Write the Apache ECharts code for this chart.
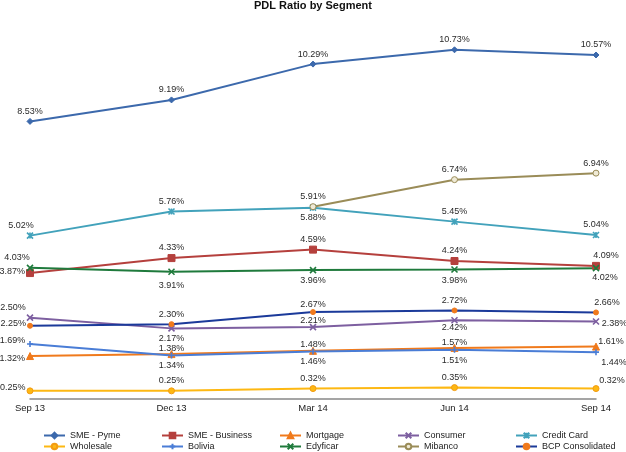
<!DOCTYPE html>
<html>
<head>
<meta charset="utf-8">
<script src="https://cdn.jsdelivr.net/npm/echarts@6/dist/echarts.min.js"></script>
<style>html,body{margin:0;padding:0;background:#fff}#c{width:626px;height:452px}</style>
</head>
<body>
<div id="c"></div>
<script>
const categories = ['Sep 13', 'Dec 13', 'Mar 14', 'Jun 14', 'Sep 14'];
const smePyme = [8.53, 9.19, 10.29, 10.73, 10.57];
const smeBusiness = [3.87, 4.33, 4.59, 4.24, 4.09];
const mortgage = [1.32, 1.38, 1.48, 1.57, 1.61];
const consumer = [2.50, 2.17, 2.21, 2.42, 2.38];
const creditCard = [5.02, 5.76, 5.88, 5.45, 5.04];
const wholesale = [0.25, 0.25, 0.32, 0.35, 0.32];
const bolivia = [1.69, 1.34, 1.46, 1.51, 1.44];
const edyficar = [4.03, 3.91, 3.96, 3.98, 4.02];
const mibanco = [null, null, 5.91, 6.74, 6.94];
const bcpConsolidated = [2.25, 2.30, 2.67, 2.72, 2.66];

const X = 'path://M0,0L10,10M10,0L0,10';
const STAR = 'path://M0,0L10,10M10,0L0,10M5,0L5,10';
const PLUS = 'path://M5,0L5,10M0,5L10,5';

// label placement per point: [position, dx, dy]
const T = ['top', 0, 0], B = ['bottom', 0, 0];
const seriesDefs = [
  {name: 'SME - Pyme', data: smePyme, color: '#3C69AC', symbol: 'diamond', size: 6, labels: [T, T, T, T, T]},
  {name: 'SME - Business', data: smeBusiness, color: '#B5403D', symbol: 'rect', size: 7, labels: [['left', 0, -2], T, T, T, ['top', 10, 0]]},
  {name: 'Mortgage', data: mortgage, color: '#F07A1C', symbol: 'triangle', size: 7, labels: [['left', 0, 2], ['top', 0, 5], ['top', 0, 4], ['top', 0, 5], ['top', 15, 5]]},
  {name: 'Consumer', data: consumer, color: '#7D5FA0', symbol: X, size: 6, stroke: true, labels: [['top', -17, 0], B, ['top', 0, 4], ['bottom', 0, -3], ['right', 0, 2]]},
  {name: 'Credit Card', data: creditCard, color: '#42A2BB', symbol: STAR, size: 6, stroke: true, labels: [['top', -9, 0], T, B, T, T]},
  {name: 'Wholesale', data: wholesale, color: '#FDB813', border: '#F39C12', symbol: 'circle', size: 6, labels: [['left', 0, -3], T, T, T, ['top', 16, 2]]},
  {name: 'Bolivia', data: bolivia, color: '#4A7DD6', symbol: PLUS, size: 6, stroke: true, labels: [['left', 0, -3], B, B, B, ['bottom', 18, 0]]},
  {name: 'Edyficar', data: edyficar, color: '#1F7A3C', symbol: X, size: 6, stroke: true, labels: [['top', -13, 0], ['bottom', 0, 3], B, ['bottom', 0, 1], ['bottom', 9, -1]]},
  {name: 'Mibanco', data: mibanco, color: '#9A8C58', fill: '#EFEAD6', symbol: 'circle', size: 6, labels: [T, T, T, T, T]},
  {name: 'BCP Consolidated', data: bcpConsolidated, color: '#1B3A9A', markerColor: '#F07A1C', symbol: 'circle', size: 5, labels: [['left', 0, -2], T, ['top', 0, 2], T, ['top', 11, 0]]}
];

const series = seriesDefs.map(d => ({
  name: d.name,
  type: 'line',
  data: d.data.map((v, i) => {
    const l = d.labels[i];
    return {
      value: v,
      label: {position: l[0], offset: [l[1], l[2]], distance: l[0] === 'left' ? 1 : 2}
    };
  }),
  symbol: d.symbol,
  symbolSize: d.size,
  showAllSymbol: true,
  connectNulls: false,
  lineStyle: {color: d.color, width: 2},
  itemStyle: d.stroke ? {color: 'rgba(0,0,0,0)', borderColor: d.color, borderWidth: 1.6}
    : {color: d.fill || d.markerColor || d.color, borderColor: d.border || d.markerColor || d.color, borderWidth: 1},
  label: {
    show: true,
    distance: 2,
    color: '#2a2a2a',
    fontSize: 9,
    fontFamily: 'Liberation Sans, Arial, sans-serif',
    formatter: p => p.value == null ? '' : p.value.toFixed(2) + '%'
  },
  emphasis: {disabled: true},
  animation: false
}));

const chart = echarts.init(document.getElementById('c'));
chart.setOption({
  animation: false,
  backgroundColor: '#fff',
  title: {
    text: 'PDL Ratio by Segment',
    left: 'center', top: 0, padding: 0,
    textStyle: {fontSize: 11, fontWeight: 'bold', color: '#111', fontFamily: 'Liberation Sans, Arial, sans-serif'}
  },
  grid: {left: 30, right: 30, top: 41, bottom: 53},
  xAxis: {
    type: 'category',
    data: categories,
    boundaryGap: false,
    axisLine: {lineStyle: {color: '#888', width: 1.5}},
    axisTick: {show: false},
    axisLabel: {color: '#222', fontSize: 9.5, margin: 4, fontFamily: 'Liberation Sans, Arial, sans-serif'}
  },
  yAxis: {type: 'value', min: 0, max: 11, show: false, splitLine: {show: false}},
  legend: {
    left: 43, top: 430, width: 600,
    itemWidth: 21, itemHeight: 7, itemGap: 0,
    padding: 0,
    formatter: '{a|{name}}',
    textStyle: {
      fontSize: 9, color: '#222', fontFamily: 'Liberation Sans, Arial, sans-serif',
      rich: {a: {width: 91, fontSize: 9, height: 11, lineHeight: 11, color: '#222'}}
    },
    data: seriesDefs.map(d => d.name)
  },
  series: series
});
</script>
</body>
</html>
